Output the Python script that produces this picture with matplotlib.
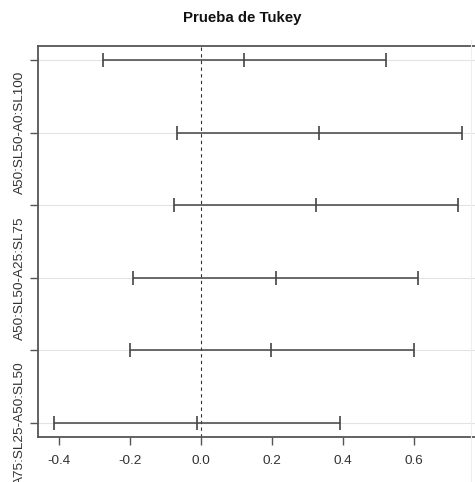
import matplotlib
matplotlib.use("Agg")
import matplotlib.pyplot as plt

plt.rcParams['font.family'] = ['Liberation Sans', 'DejaVu Sans']

labels = ["", "A50:SL50-A0:SL100", "", "A50:SL50-A25:SL75", "", "A75:SL25-A50:SL50"]
diff = [0.122, 0.334, 0.324, 0.211, 0.199, -0.011]
lwr = [-0.277, -0.066, -0.077, -0.192, -0.201, -0.413]
upr = [0.523, 0.735, 0.724, 0.611, 0.601, 0.391]
xticks = [-0.4, -0.2, 0.0, 0.2, 0.4, 0.6]

n = len(diff)
yvals = list(range(n, 0, -1))

fig = plt.figure(figsize=(4.75, 4.82), dpi=100)
ax = fig.add_axes([0.08, 0.0927, 0.9263, 0.8125])

lo, hi = min(lwr), max(upr)
ext = 0.04 * (hi - lo)
ax.set_xlim(lo - ext, hi + ext)
ax.set_ylim(1 - 0.04 * (n - 1), n + 0.04 * (n - 1))

for y in yvals:
    ax.axhline(y, color="#e3e3e3", lw=0.8, zorder=1)
ax.axvline(0, color="#333333", lw=0.8, ls=(0, (3, 3)), zorder=2)

mk = dict(ls="none", marker="|", ms=10.5, mew=1.2, color="#444444", zorder=4)
ax.hlines(yvals, lwr, upr, color="#444444", lw=1.1, zorder=3)
ax.plot(lwr, yvals, **mk)
ax.plot(upr, yvals, **mk)
ax.plot(diff, yvals, **mk)

ax.set_xticks(xticks)
ax.set_xticklabels([f"{t:.1f}" for t in xticks])
ax.set_yticks(yvals)
ax.set_yticklabels(labels, rotation=90, va="center")

ax.tick_params(axis="both", direction="out", length=5.5, width=1.0, color="#555555",
               labelsize=9.7, labelcolor="#333333")
ax.tick_params(axis="y", pad=3.5)
ax.tick_params(axis="x", pad=7)
for s in ax.spines.values():
    s.set_color("#555555")
    s.set_linewidth(1.3)

fig.text(242 / 475, 1 - 18 / 482, "Prueba de Tukey", ha="center", va="center",
         fontsize=10.8, fontweight="bold", color="#111111")

fig.add_artist(plt.Line2D([471 / 475, 471 / 475], [0.0, 1 - 40 / 482], transform=fig.transFigure,
                          color="#eeeeee", lw=0.8))

fig.savefig("out.png", dpi=100)
